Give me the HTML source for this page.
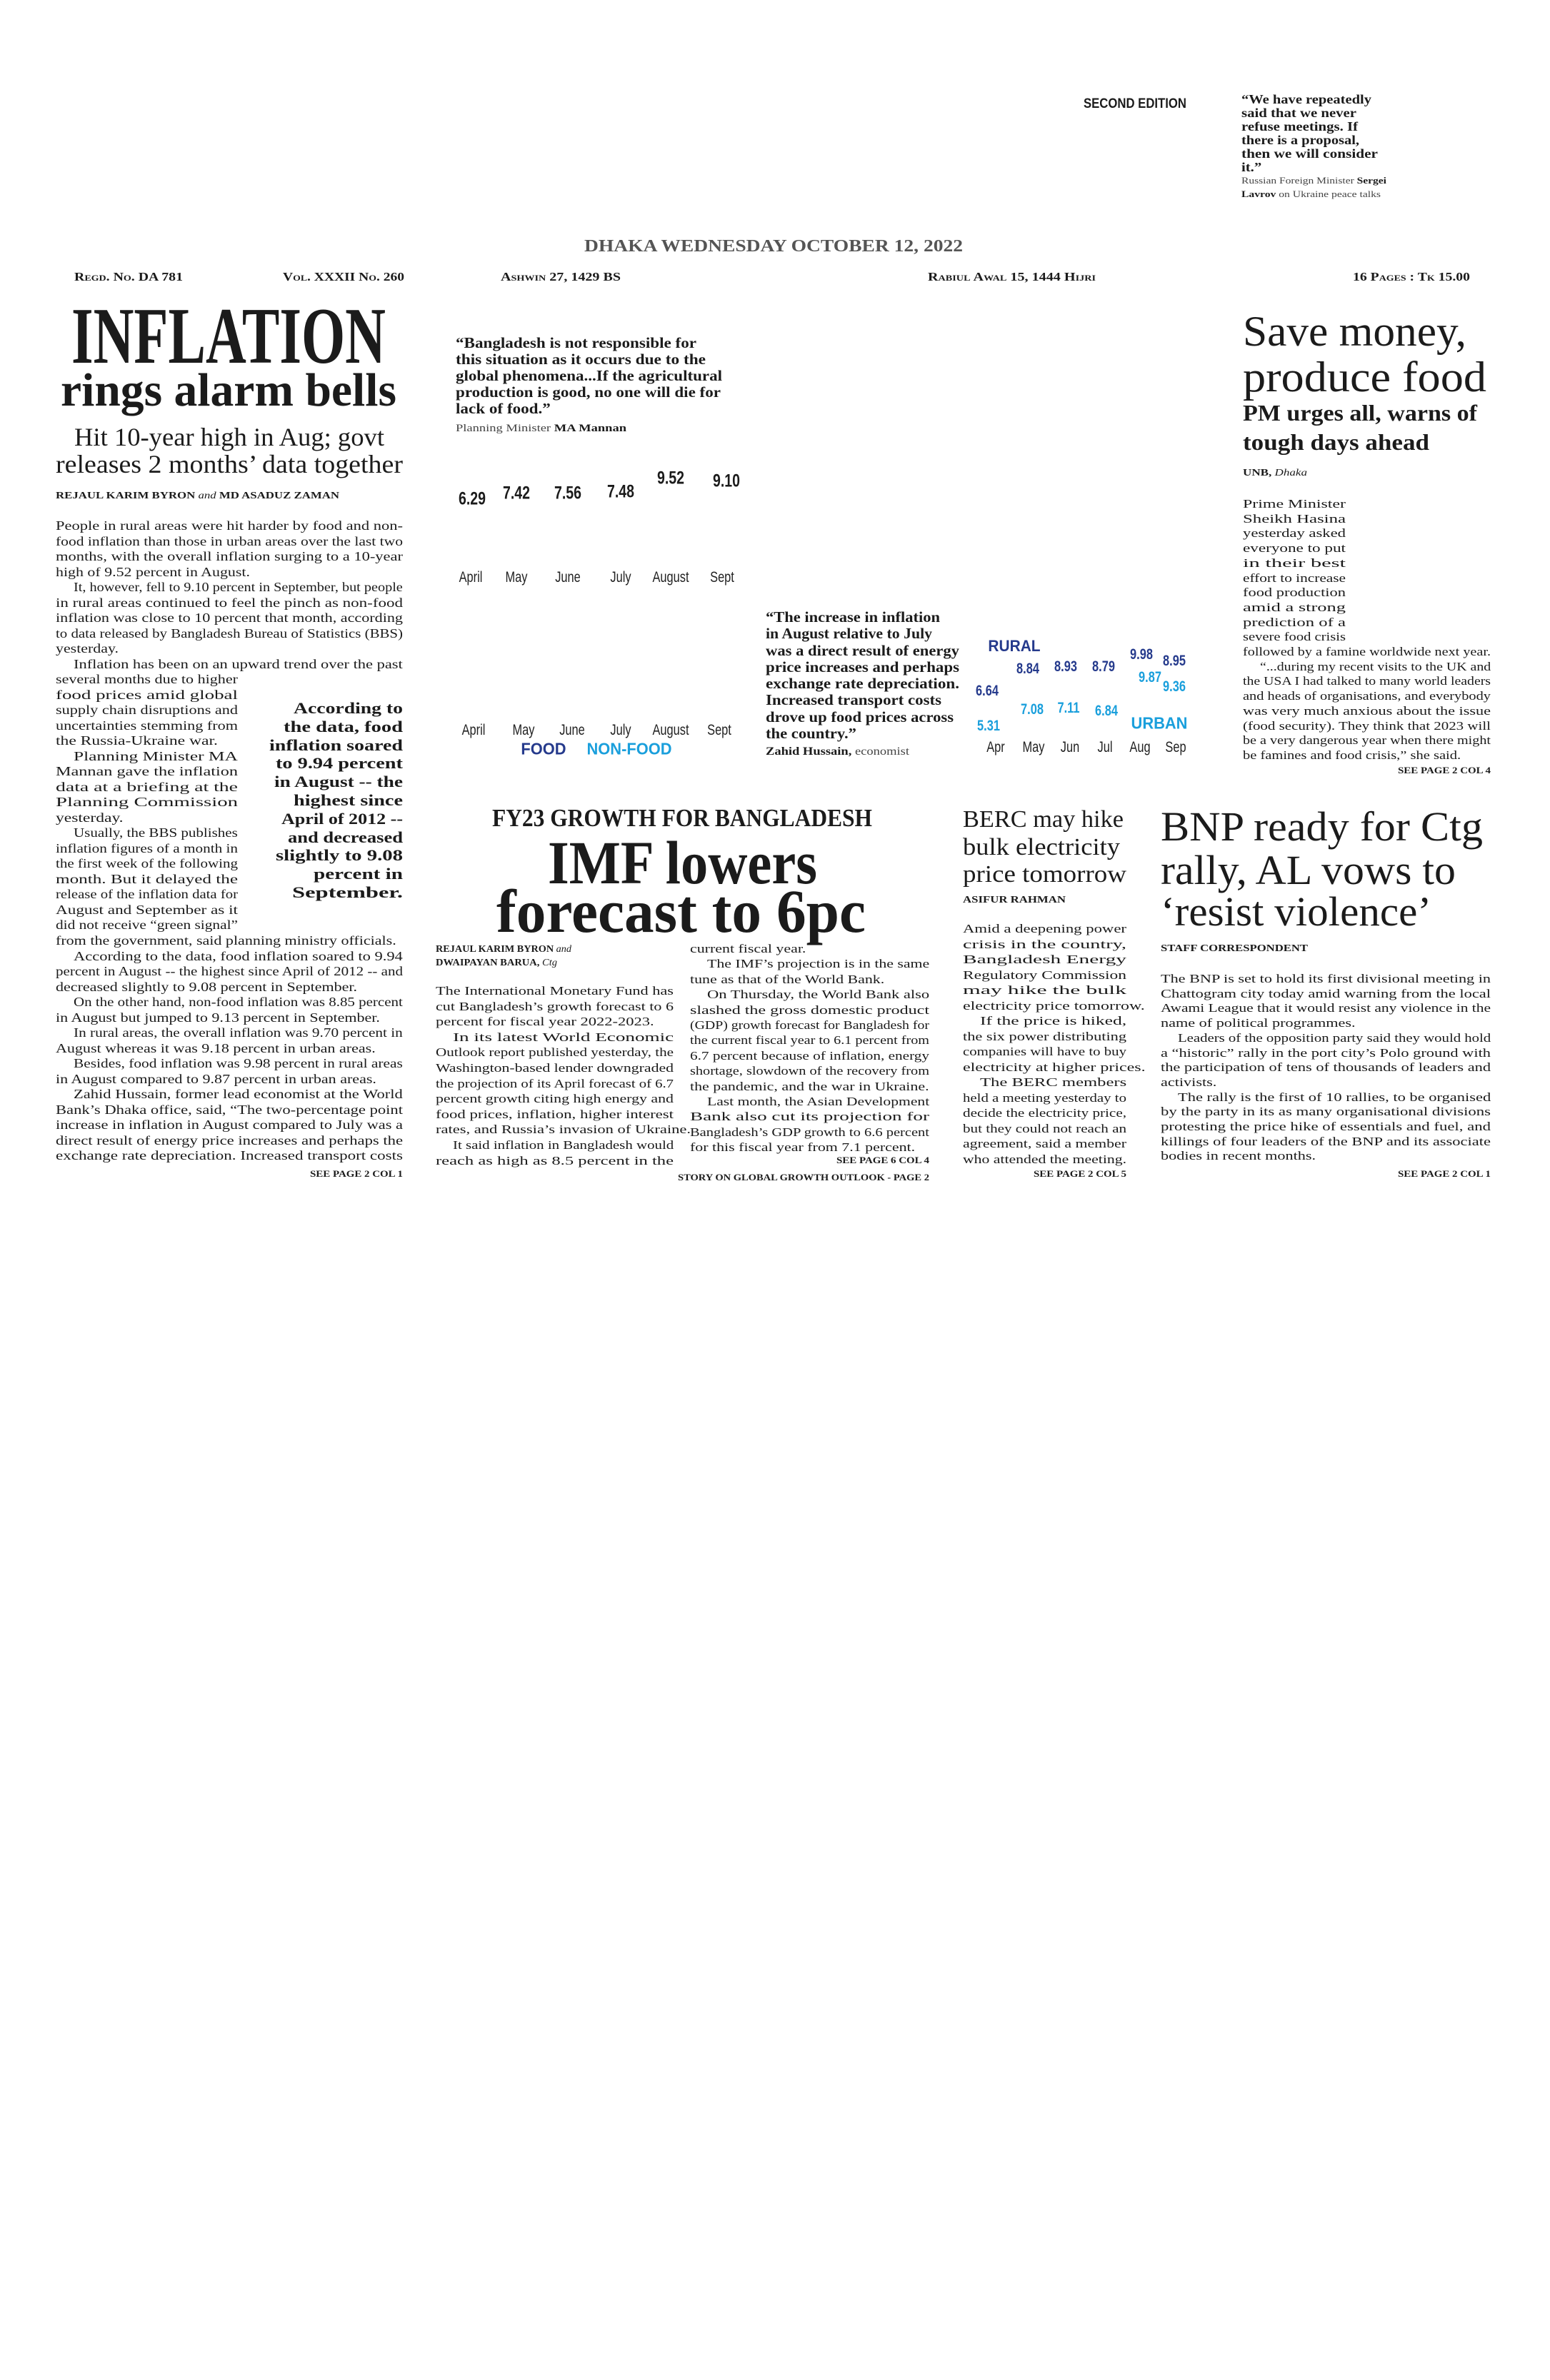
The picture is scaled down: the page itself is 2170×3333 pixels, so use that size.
<!DOCTYPE html>
<html><head><meta charset="utf-8">
<style>
html,body{margin:0;padding:0}
body{width:2170px;height:3333px;background:#fff;position:relative;overflow:hidden;font-family:"Liberation Serif",serif;color:#1b1b1b}
.b{position:absolute}
.b>div{white-space:nowrap}
.x{display:inline-block;transform-origin:0 50%}
.r{text-align:right}
.bd{font-weight:bold}
.k{position:absolute;font-family:"Liberation Sans",sans-serif;white-space:nowrap;transform:translate(-50%,-50%) scaleX(.78)}
.n{font-weight:bold;font-size:25px}
.m{font-size:21px;color:#222}
.nv{color:#253a8c}
.cy{color:#1a9fdc}
.sc{font-variant:small-caps;font-weight:bold}
</style></head><body>

<!-- top -->
<div class="b" style="left:1517px;top:134px;font:bold 19px/24px 'Liberation Sans',sans-serif"><div class="j" style="width:144px">SECOND EDITION</div></div>
<div class="b bd" style="left:1738px;top:130px;font-size:18px;line-height:19px">
<div class="j" style="width:182px">“We have repeatedly</div>
<div class="j" style="width:161px">said that we never</div>
<div class="j" style="width:163px">refuse meetings. If</div>
<div class="j" style="width:165px">there is a proposal,</div>
<div class="j" style="width:191px">then we will consider</div>
<div>it.”</div>
</div>
<div class="b" style="left:1738px;top:243px;font-size:13px;line-height:19px;color:#444">
<div class="j" style="width:203px">Russian Foreign Minister <b style="color:#1b1b1b">Sergei</b></div>
<div class="j" style="width:195px"><b style="color:#1b1b1b">Lavrov</b> on Ukraine peace talks</div>
</div>

<div class="b bd" style="left:818px;top:331px;font-size:24px;line-height:28px;color:#555"><div class="j" style="width:530px">DHAKA WEDNESDAY OCTOBER 12, 2022</div></div>

<div class="b sc" style="left:104px;top:378px;font-size:17px;line-height:20px"><div class="j" style="width:152px">Regd. No. DA 781</div></div>
<div class="b sc" style="left:396px;top:378px;font-size:17px;line-height:20px"><div class="j" style="width:170px">Vol. XXXII No. 260</div></div>
<div class="b sc" style="left:701px;top:378px;font-size:17px;line-height:20px"><div class="j" style="width:168px">Ashwin 27, 1429 BS</div></div>
<div class="b sc" style="left:1299px;top:378px;font-size:17px;line-height:20px"><div class="j" style="width:235px">Rabiul Awal 15, 1444 Hijri</div></div>
<div class="b sc" style="left:1894px;top:378px;font-size:17px;line-height:20px"><div class="j" style="width:164px">16 Pages : Tk 15.00</div></div>

<!-- left story -->
<div class="b bd" style="left:100px;top:415px;font-size:112px;line-height:112px"><div class="j" style="width:440px">INFLATION</div></div>
<div class="b bd" style="left:85px;top:514px;font-size:66px;line-height:66px"><div class="j" style="width:470px">rings alarm bells</div></div>
<div class="b" style="left:104px;top:594px;font-size:36px;line-height:36px"><div class="j" style="width:434px">Hit 10-year high in Aug; govt</div></div>
<div class="b" style="left:78px;top:632px;font-size:36px;line-height:36px"><div class="j" style="width:486px">releases 2 months’ data together</div></div>
<div class="b" style="left:78px;top:687px;font-size:14px;line-height:16px"><div class="j" style="width:397px"><b>REJAUL KARIM BYRON</b> <i>and</i> <b>MD ASADUZ ZAMAN</b></div></div>

<div class="b" style="left:78px;top:726px;width:486px;font-size:18px;line-height:21.5px">
<div class="j">People in rural areas were hit harder by food and non-</div>
<div class="j">food inflation than those in urban areas over the last two</div>
<div class="j">months, with the overall inflation surging to a 10-year</div>
<div>high of 9.52 percent in August.</div>
<div class="j i">It, however, fell to 9.10 percent in September, but people</div>
<div class="j">in rural areas continued to feel the pinch as non-food</div>
<div class="j">inflation was close to 10 percent that month, according</div>
<div class="j">to data released by Bangladesh Bureau of Statistics (BBS)</div>
<div>yesterday.</div>
<div class="j i">Inflation has been on an upward trend over the past</div>
</div>
<div class="b" style="left:78px;top:941px;width:255px;font-size:18px;line-height:21.5px">
<div class="j">several months due to higher</div>
<div class="j">food prices amid global</div>
<div class="j">supply chain disruptions and</div>
<div class="j">uncertainties stemming from</div>
<div>the Russia-Ukraine war.</div>
<div class="j i">Planning Minister MA</div>
<div class="j">Mannan gave the inflation</div>
<div class="j">data at a briefing at the</div>
<div class="j">Planning Commission</div>
<div>yesterday.</div>
<div class="j i">Usually, the BBS publishes</div>
<div class="j">inflation figures of a month in</div>
<div class="j">the first week of the following</div>
<div class="j">month. But it delayed the</div>
<div class="j">release of the inflation data for</div>
<div class="j">August and September as it</div>
<div class="j">did not receive “green signal”</div>
</div>
<div class="b" style="left:78px;top:1307px;width:486px;font-size:18px;line-height:21.5px">
<div>from the government, said planning ministry officials.</div>
<div class="j i">According to the data, food inflation soared to 9.94</div>
<div class="j">percent in August -- the highest since April of 2012 -- and</div>
<div>decreased slightly to 9.08 percent in September.</div>
<div class="j i">On the other hand, non-food inflation was 8.85 percent</div>
<div>in August but jumped to 9.13 percent in September.</div>
<div class="j i">In rural areas, the overall inflation was 9.70 percent in</div>
<div>August whereas it was 9.18 percent in urban areas.</div>
<div class="j i">Besides, food inflation was 9.98 percent in rural areas</div>
<div>in August compared to 9.87 percent in urban areas.</div>
<div class="j i">Zahid Hussain, former lead economist at the World</div>
<div class="j">Bank’s Dhaka office, said, “The two-percentage point</div>
<div class="j">increase in inflation in August compared to July was a</div>
<div class="j">direct result of energy price increases and perhaps the</div>
<div class="j">exchange rate depreciation. Increased transport costs</div>
</div>
<div class="b bd" style="left:340px;top:979px;width:224px;font-size:22px;line-height:25.8px">
<div class="j" style="width:153px;margin-left:auto">According to</div>
<div class="j" style="width:167px;margin-left:auto">the data, food</div>
<div class="j" style="width:187px;margin-left:auto">inflation soared</div>
<div class="j" style="width:178px;margin-left:auto">to 9.94 percent</div>
<div class="j" style="width:180px;margin-left:auto">in August -- the</div>
<div class="j" style="width:153px;margin-left:auto">highest since</div>
<div class="j" style="width:170px;margin-left:auto">April of 2012 --</div>
<div class="j" style="width:161px;margin-left:auto">and decreased</div>
<div class="j" style="width:178px;margin-left:auto">slightly to 9.08</div>
<div class="j" style="width:125px;margin-left:auto">percent in</div>
<div class="j" style="width:155px;margin-left:auto">September.</div>
</div>
<div class="b bd" style="left:434px;top:1636px;font-size:13px;line-height:16px"><div class="j" style="width:130px">SEE PAGE 2 COL 1</div></div>

<!-- chart 1 -->
<div class="b bd" style="left:638px;top:469px;font-size:21px;line-height:23px">
<div class="j" style="width:337px">“Bangladesh is not responsible for</div>
<div class="j" style="width:350px">this situation as it occurs due to the</div>
<div class="j" style="width:373px">global phenomena...If the agricultural</div>
<div class="j" style="width:371px">production is good, no one will die for</div>
<div>lack of food.”</div>
</div>
<div class="b" style="left:638px;top:591px;font-size:15px;line-height:18px;color:#444"><div class="j" style="width:239px">Planning Minister <b style="color:#1b1b1b">MA Mannan</b></div></div>

<div class="k n" style="left:661px;top:699px">6.29</div>
<div class="k n" style="left:723px;top:691px">7.42</div>
<div class="k n" style="left:795px;top:691px">7.56</div>
<div class="k n" style="left:869px;top:689px">7.48</div>
<div class="k n" style="left:939px;top:670px">9.52</div>
<div class="k n" style="left:1017px;top:674px">9.10</div>
<div class="k m" style="left:659px;top:809px">April</div>
<div class="k m" style="left:723px;top:809px">May</div>
<div class="k m" style="left:795px;top:809px">June</div>
<div class="k m" style="left:869px;top:809px">July</div>
<div class="k m" style="left:939px;top:809px">August</div>
<div class="k m" style="left:1011px;top:809px">Sept</div>

<div class="k m" style="left:663px;top:1023px">April</div>
<div class="k m" style="left:733px;top:1023px">May</div>
<div class="k m" style="left:801px;top:1023px">June</div>
<div class="k m" style="left:869px;top:1023px">July</div>
<div class="k m" style="left:939px;top:1023px">August</div>
<div class="k m" style="left:1007px;top:1023px">Sept</div>
<div class="k n nv" style="left:761px;top:1049px;font-size:23px;transform:translate(-50%,-50%) scaleX(.95)">FOOD</div>
<div class="k n cy" style="left:881px;top:1049px;font-size:23px;transform:translate(-50%,-50%) scaleX(.95)">NON-FOOD</div>

<!-- quote 2 -->
<div class="b bd" style="left:1072px;top:853px;font-size:21px;line-height:23.3px">
<div class="j" style="width:244px">“The increase in inflation</div>
<div class="j" style="width:233px">in August relative to July</div>
<div class="j" style="width:271px">was a direct result of energy</div>
<div class="j" style="width:271px">price increases and perhaps</div>
<div class="j" style="width:271px">exchange rate depreciation.</div>
<div class="j" style="width:246px">Increased transport costs</div>
<div class="j" style="width:263px">drove up food prices across</div>
<div>the country.”</div>
</div>
<div class="b" style="left:1072px;top:1044px;font-size:16px;line-height:18px;color:#444"><div class="j" style="width:201px"><b style="color:#1b1b1b">Zahid Hussain,</b> economist</div></div>

<!-- chart 3 -->
<div class="k n nv" style="left:1420px;top:905px;font-size:22px;transform:translate(-50%,-50%) scaleX(.95)">RURAL</div>
<div class="k n nv" style="left:1382px;top:968px;font-size:21px">6.64</div>
<div class="k n nv" style="left:1439px;top:937px;font-size:21px">8.84</div>
<div class="k n nv" style="left:1492px;top:934px;font-size:21px">8.93</div>
<div class="k n nv" style="left:1545px;top:934px;font-size:21px">8.79</div>
<div class="k n nv" style="left:1598px;top:917px;font-size:21px">9.98</div>
<div class="k n nv" style="left:1644px;top:926px;font-size:21px">8.95</div>
<div class="k n cy" style="left:1384px;top:1017px;font-size:21px">5.31</div>
<div class="k n cy" style="left:1445px;top:994px;font-size:21px">7.08</div>
<div class="k n cy" style="left:1496px;top:992px;font-size:21px">7.11</div>
<div class="k n cy" style="left:1549px;top:996px;font-size:21px">6.84</div>
<div class="k n cy" style="left:1610px;top:949px;font-size:21px">9.87</div>
<div class="k n cy" style="left:1644px;top:962px;font-size:21px">9.36</div>
<div class="k n cy" style="left:1623px;top:1013px;font-size:23px;transform:translate(-50%,-50%) scaleX(.95)">URBAN</div>
<div class="k m" style="left:1394px;top:1047px">Apr</div>
<div class="k m" style="left:1447px;top:1047px">May</div>
<div class="k m" style="left:1498px;top:1047px">Jun</div>
<div class="k m" style="left:1547px;top:1047px">Jul</div>
<div class="k m" style="left:1596px;top:1047px">Aug</div>
<div class="k m" style="left:1646px;top:1047px">Sep</div>

<!-- right top story -->
<div class="b" style="left:1740px;top:434px;font-size:60px;line-height:60px"><div class="j" style="width:313px">Save money,</div></div>
<div class="b" style="left:1740px;top:498px;font-size:60px;line-height:60px"><div class="j" style="width:341px">produce food</div></div>
<div class="b bd" style="left:1740px;top:562px;font-size:32px;line-height:32px"><div class="j" style="width:328px">PM urges all, warns of</div></div>
<div class="b bd" style="left:1740px;top:603px;font-size:32px;line-height:32px"><div class="j" style="width:261px">tough days ahead</div></div>
<div class="b" style="left:1740px;top:655px;font-size:14px;line-height:16px"><div class="j" style="width:90px"><b>UNB,</b> <i>Dhaka</i></div></div>
<div class="b" style="left:1740px;top:696px;width:144px;font-size:17px;line-height:20.7px">
<div class="j">Prime Minister</div>
<div class="j">Sheikh Hasina</div>
<div class="j">yesterday asked</div>
<div class="j">everyone to put</div>
<div class="j">in their best</div>
<div class="j">effort to increase</div>
<div class="j">food production</div>
<div class="j">amid a strong</div>
<div class="j">prediction of a</div>
<div class="j">severe food crisis</div>
</div>
<div class="b" style="left:1740px;top:903px;width:347px;font-size:17px;line-height:20.7px">
<div class="j">followed by a famine worldwide next year.</div>
<div class="j i">“...during my recent visits to the UK and</div>
<div class="j">the USA I had talked to many world leaders</div>
<div class="j">and heads of organisations, and everybody</div>
<div class="j">was very much anxious about the issue</div>
<div class="j">(food security). They think that 2023 will</div>
<div class="j">be a very dangerous year when there might</div>
<div>be famines and food crisis,” she said.</div>
</div>
<div class="b bd" style="left:1957px;top:1071px;font-size:13px;line-height:16px"><div class="j" style="width:130px">SEE PAGE 2 COL 4</div></div>

<!-- IMF story -->
<div class="b bd" style="left:689px;top:1128px;font-size:35px;line-height:35px"><div class="j" style="width:532px">FY23 GROWTH FOR BANGLADESH</div></div>
<div class="b bd" style="left:767px;top:1165px;font-size:86px;line-height:86px"><div class="j" style="width:377px">IMF lowers</div></div>
<div class="b bd" style="left:695px;top:1233px;font-size:86px;line-height:86px"><div class="j" style="width:517px">forecast to 6pc</div></div>
<div class="b" style="left:610px;top:1320px;font-size:14px;line-height:19px">
<div class="j" style="width:190px"><b>REJAUL KARIM BYRON</b> <i>and</i></div>
<div class="j" style="width:170px"><b>DWAIPAYAN BARUA,</b> <i>Ctg</i></div>
</div>
<div class="b" style="left:610px;top:1377px;width:333px;font-size:17px;line-height:21.6px">
<div class="j">The International Monetary Fund has</div>
<div class="j">cut Bangladesh’s growth forecast to 6</div>
<div>percent for fiscal year 2022-2023.</div>
<div class="j i">In its latest World Economic</div>
<div class="j">Outlook report published yesterday, the</div>
<div class="j">Washington-based lender downgraded</div>
<div class="j">the projection of its April forecast of 6.7</div>
<div class="j">percent growth citing high energy and</div>
<div class="j">food prices, inflation, higher interest</div>
<div>rates, and Russia’s invasion of Ukraine.</div>
<div class="j i">It said inflation in Bangladesh would</div>
<div class="j">reach as high as 8.5 percent in the</div>
</div>
<div class="b" style="left:966px;top:1318px;width:335px;font-size:17px;line-height:21.4px">
<div>current fiscal year.</div>
<div class="j i">The IMF’s projection is in the same</div>
<div>tune as that of the World Bank.</div>
<div class="j i">On Thursday, the World Bank also</div>
<div class="j">slashed the gross domestic product</div>
<div class="j">(GDP) growth forecast for Bangladesh for</div>
<div class="j">the current fiscal year to 6.1 percent from</div>
<div class="j">6.7 percent because of inflation, energy</div>
<div class="j">shortage, slowdown of the recovery from</div>
<div>the pandemic, and the war in Ukraine.</div>
<div class="j i">Last month, the Asian Development</div>
<div class="j">Bank also cut its projection for</div>
<div class="j">Bangladesh’s GDP growth to 6.6 percent</div>
<div>for this fiscal year from 7.1 percent.</div>
</div>
<div class="b bd" style="left:1171px;top:1617px;font-size:13px;line-height:16px"><div class="j" style="width:130px">SEE PAGE 6 COL 4</div></div>
<div class="b bd" style="left:949px;top:1641px;font-size:13px;line-height:16px"><div class="j" style="width:352px">STORY ON GLOBAL GROWTH OUTLOOK - PAGE 2</div></div>

<!-- BERC -->
<div class="b" style="left:1348px;top:1129px;font-size:34px;line-height:38.5px">
<div class="j" style="width:225px">BERC may hike</div>
<div class="j" style="width:220px">bulk electricity</div>
<div class="j" style="width:229px">price tomorrow</div>
</div>
<div class="b bd" style="left:1348px;top:1253px;font-size:14px;line-height:16px"><div class="j" style="width:144px">ASIFUR RAHMAN</div></div>
<div class="b" style="left:1348px;top:1290px;width:229px;font-size:17px;line-height:21.5px">
<div class="j">Amid a deepening power</div>
<div class="j">crisis in the country,</div>
<div class="j">Bangladesh Energy</div>
<div class="j">Regulatory Commission</div>
<div class="j">may hike the bulk</div>
<div>electricity price tomorrow.</div>
<div class="j i">If the price is hiked,</div>
<div class="j">the six power distributing</div>
<div class="j">companies will have to buy</div>
<div>electricity at higher prices.</div>
<div class="j i">The BERC members</div>
<div class="j">held a meeting yesterday to</div>
<div class="j">decide the electricity price,</div>
<div class="j">but they could not reach an</div>
<div class="j">agreement, said a member</div>
<div class="j">who attended the meeting.</div>
</div>
<div class="b bd" style="left:1447px;top:1636px;font-size:13px;line-height:16px"><div class="j" style="width:130px">SEE PAGE 2 COL 5</div></div>

<!-- BNP -->
<div class="b" style="left:1625px;top:1128px;font-size:58px;line-height:60px">
<div class="j" style="width:451px">BNP ready for Ctg</div>
</div>
<div class="b" style="left:1625px;top:1189px;font-size:58px;line-height:60px">
<div class="j" style="width:413px">rally, AL vows to</div>
</div>
<div class="b" style="left:1625px;top:1247px;font-size:58px;line-height:60px">
<div class="j" style="width:379px">‘resist violence’</div>
</div>
<div class="b bd" style="left:1625px;top:1321px;font-size:14px;line-height:16px"><div class="j" style="width:206px">STAFF CORRESPONDENT</div></div>
<div class="b" style="left:1625px;top:1361px;width:462px;font-size:17px;line-height:20.7px">
<div class="j">The BNP is set to hold its first divisional meeting in</div>
<div class="j">Chattogram city today amid warning from the local</div>
<div class="j">Awami League that it would resist any violence in the</div>
<div>name of political programmes.</div>
<div class="j i">Leaders of the opposition party said they would hold</div>
<div class="j">a “historic” rally in the port city’s Polo ground with</div>
<div class="j">the participation of tens of thousands of leaders and</div>
<div>activists.</div>
<div class="j i">The rally is the first of 10 rallies, to be organised</div>
<div class="j">by the party in its as many organisational divisions</div>
<div class="j">protesting the price hike of essentials and fuel, and</div>
<div class="j">killings of four leaders of the BNP and its associate</div>
<div>bodies in recent months.</div>
</div>
<div class="b bd" style="left:1957px;top:1636px;font-size:13px;line-height:16px"><div class="j" style="width:130px">SEE PAGE 2 COL 1</div></div>

<script>
document.querySelectorAll('.b').forEach(function(b){
  var fs=parseFloat(getComputedStyle(b).fontSize);
  var lines=Array.prototype.slice.call(b.children);
  lines.forEach(function(l){l.innerHTML='<span class="x">'+l.innerHTML+'</span>';});
  var sum=0,n=0,rest=[];
  lines.forEach(function(l){
    var sp=l.firstChild;
    var ind=l.classList.contains('i')?fs*1.4:0;
    var w=sp.getBoundingClientRect().width;
    if(l.classList.contains('j')){
      var W=l.clientWidth-ind; var s=W/w;
      sp.style.marginLeft=ind+'px';
      sp.style.transform='scaleX('+s+')';
      sum+=s;n++;
    } else rest.push([l,sp,ind]);
  });
  var s=n?sum/n:0.85;
  rest.forEach(function(a){
    a[1].style.marginLeft=a[2]+'px';
    a[1].style.transform='scaleX('+s+')';
  });
});
</script>
</body></html>
